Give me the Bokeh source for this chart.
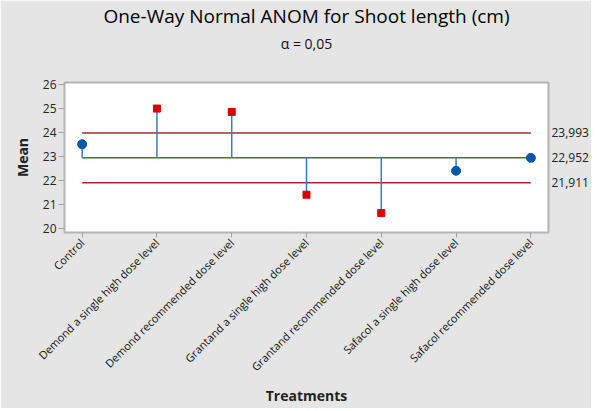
import math
from bokeh.plotting import figure
from bokeh.models import Range1d, FixedTicker, LinearAxis, Title
from bokeh.embed import file_html
from bokeh.resources import INLINE

treatments = [
    "Control",
    "Demond a single high dose level",
    "Demond recommended dose level",
    "Grantand a single high dose level",
    "Grantand recommended dose level",
    "Safacol a single high dose level",
    "Safacol recommended dose level",
]
means = [23.52, 25.01, 24.87, 21.41, 20.64, 22.41, 22.95]
center = 22.952
ucl = 23.993
lcl = 21.911
limit_labels = ["23,993", "22,952", "21,911"]
y_ticks = [20, 21, 22, 23, 24, 25, 26]

FONT = "Open Sans"
BG = "#e5e5e5"

idx = list(range(len(treatments)))

p = figure(frame_width=484, frame_height=150, output_backend="svg", toolbar_location=None,
           x_range=Range1d(-0.236, 6.236), y_range=Range1d(19.83, 26.1),
           background_fill_color="white", border_fill_color=BG,
           min_border_left=64, min_border_right=36, min_border_top=74,
           min_border_bottom=165)
p.grid.visible = False
p.outline_line_color = "#b4b4b4"
p.outline_line_width = 2

# titles (spacer, subtitle, main title: from the frame outward)
p.add_layout(Title(text="\u00a0", align="center", text_font=FONT,
                   text_font_size="14px", standoff=5), "above")
p.add_layout(Title(text="α = 0,05", align="center", text_font=FONT,
                   text_font_size="14px", text_font_style="normal",
                   text_color="#111111", standoff=7), "above")
p.add_layout(Title(text="One-Way Normal ANOM for Shoot length (cm)", align="center",
                   text_font=FONT, text_font_size="19px", text_font_style="normal",
                   text_color="#000000", standoff=0), "above")

# limit and center lines
p.line([idx[0], idx[-1]], [ucl, ucl], line_color="#a52a2a", line_width=1.5)
p.line([idx[0], idx[-1]], [lcl, lcl], line_color="#a52a2a", line_width=1.5)
p.line([idx[0], idx[-1]], [center, center], line_color="#228b22", line_width=1.5)

# stems
p.segment(x0=idx, y0=[center] * len(idx), x1=idx, y1=means,
          line_color="#3a7cc0", line_width=1.5)

in_x = [i for i, m in zip(idx, means) if lcl <= m <= ucl]
in_y = [m for m in means if lcl <= m <= ucl]
out_x = [i for i, m in zip(idx, means) if not (lcl <= m <= ucl)]
out_y = [m for m in means if not (lcl <= m <= ucl)]
p.scatter(in_x, in_y, marker="circle", size=9, fill_color="#0056a8", line_color="#0056a8")
p.scatter(out_x, out_y, marker="square", size=7, fill_color="#d40000", line_color="#d40000")

# axes
xa = p.xaxis[0]
xa.ticker = FixedTicker(ticks=idx)
xa.major_label_overrides = {i: t for i, t in zip(idx, treatments)}
xa.major_label_orientation = math.pi / 4
xa.major_label_text_font = FONT
xa.major_label_text_font_size = "11px"
xa.major_label_text_color = "#111111"
xa.major_label_standoff = 3
xa.axis_line_color = None
xa.major_tick_line_color = "#a0a0a0"
xa.major_tick_out = 5
xa.major_tick_in = 0
xa.minor_tick_line_color = None
xa.axis_label = "Treatments"
xa.axis_label_text_font = FONT
xa.axis_label_text_font_size = "14px"
xa.axis_label_text_font_style = "bold"
xa.axis_label_text_color = "#222222"
xa.axis_label_standoff = 4

ya = p.yaxis[0]
ya.ticker = FixedTicker(ticks=y_ticks)
ya.major_label_text_font = FONT
ya.major_label_text_font_size = "12px"
ya.major_label_text_color = "#222222"
ya.axis_line_color = None
ya.major_tick_line_color = "#a0a0a0"
ya.major_tick_out = 6
ya.major_tick_in = 0
ya.major_label_standoff = 2
ya.minor_tick_line_color = None
ya.axis_label = "Mean"
ya.axis_label_text_font = FONT
ya.axis_label_text_font_size = "14px"
ya.axis_label_text_font_style = "bold"
ya.axis_label_text_color = "#222222"
ya.axis_label_standoff = 8

ra = LinearAxis(ticker=FixedTicker(ticks=[ucl, center, lcl]),
                major_label_overrides={ucl: limit_labels[0], center: limit_labels[1], lcl: limit_labels[2]})
ra.axis_line_color = None
ra.major_tick_line_color = None
ra.minor_tick_line_color = None
ra.major_tick_out = 0
ra.major_label_standoff = 3
ra.major_label_text_font = FONT
ra.major_label_text_font_size = "12px"
ra.major_label_text_color = "#222222"
p.add_layout(ra, "right")

open("out.html", "w").write(file_html(p, INLINE))
